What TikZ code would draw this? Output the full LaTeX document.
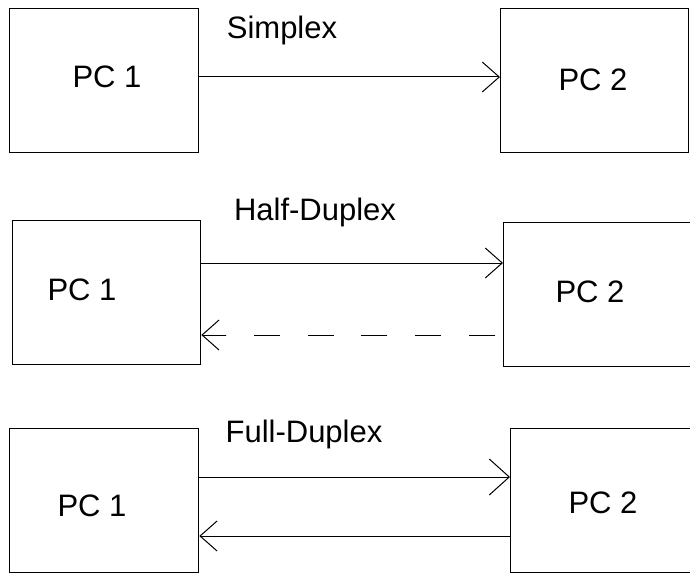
\documentclass[tikz,border=0pt]{standalone}
\usepackage{fontspec}
\setmainfont{Liberation Sans}
\usetikzlibrary{arrows.meta}
\begin{document}
\begin{tikzpicture}[x=1pt,y=1pt,
  pcbox/.style={draw, line width=1.3pt, minimum width=#1, minimum height=144pt, inner sep=0pt, anchor=south west},
  lbl/.style={font=\fontsize{31}{36}\selectfont, anchor=base, inner sep=0pt},
  conn/.style={line width=1pt, -{Straight Barb[length=17pt,width=30pt,line width=1pt]}}]
\useasboundingbox (0,0) rectangle (690,574);
\clip (0,0) rectangle (690,574);
% Simplex
\node[pcbox=189pt] (a1) at (9,421) {};
\node[pcbox=188pt] (b1) at (500,421) {};
\node[lbl] (ta1) at (107,486) {PC 1};
\node[lbl] (tb1) at (593,483) {PC 2};
\node[lbl] (s) at (282,535) {Simplex};
\draw[conn] (a1.east |- 0,497) -- (b1.west |- 0,497);
% Half-Duplex
\node[pcbox=188pt] (a2) at (12,209) {};
\node[pcbox=200pt] (b2) at (503,207) {};
\node[lbl] (ta2) at (82,274) {PC 1};
\node[lbl] (tb2) at (590,272) {PC 2};
\node[lbl] (h) at (315,354) {Half-Duplex};
\draw[conn] (a2.east |- 0,311) -- (b2.west |- 0,311);
\coordinate (d) at (226,239);
\draw[line width=1pt, dash pattern=on 26pt off 27.8pt, dash phase=45.8pt] (b2.west |- d) -- (d);
\draw[conn] (d) -- (a2.east |- d);
% Full-Duplex
\node[pcbox=189pt] (a3) at (9,1) {};
\node[pcbox=200pt] (b3) at (510,1) {};
\node[lbl] (ta3) at (92,58) {PC 1};
\node[lbl] (tb3) at (603,61) {PC 2};
\node[lbl] (f) at (304,132) {Full-Duplex};
\draw[line width=1pt, -{Straight Barb[length=20pt,width=36pt,line width=1pt]}] (a3.east |- 0,97) -- (b3.west |- 0,97);
\draw[conn] (b3.west |- 0,38) -- (a3.east |- 0,38);
\end{tikzpicture}
\end{document}
